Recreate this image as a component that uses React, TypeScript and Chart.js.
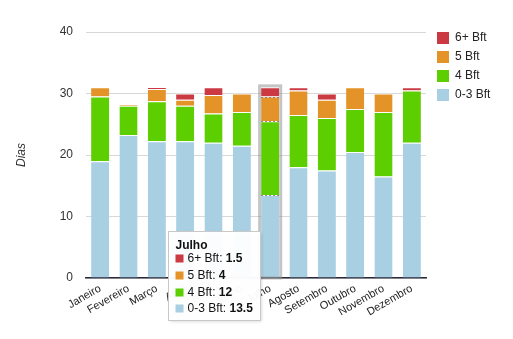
import React, { useEffect, useRef } from "react";
import { Chart, registerables } from "chart.js";

Chart.register(...registerables);

const categories = ["Janeiro", "Fevereiro", "Março", "Abril", "Maio", "Junho", "Julho", "Agosto", "Setembro", "Outubro", "Novembro", "Dezembro"];
const bft03 = [19, 23.25, 22.25, 22.25, 22, 21.5, 13.5, 18, 17.5, 20.5, 16.5, 22];
const bft4 = [10.5, 4.75, 6.5, 5.75, 4.75, 5.5, 12, 8.5, 8.5, 7, 10.5, 8.5];
const bft5 = [1.5, 0.25, 2, 1, 3, 3, 4, 4, 3, 3.5, 3, 0];
const bft6 = [0, 0, 0.25, 1, 1.25, 0, 1.5, 0.5, 1, 0, 0, 0.5];
const seriesLabels = ["0-3 Bft", "4 Bft", "5 Bft", "6+ Bft"];
const seriesColors = ["#A9CFE3", "#5DCF00", "#E39327", "#CB3A43"];
const yTicks = [0, 10, 20, 30, 40];
const highlightIndex = 6;

const FONT = "'Liberation Sans', Arial, sans-serif";

const overlayPlugin = {
  id: "overlay",
  afterDatasetsDraw(chart: any) {
    const ctx = chart.ctx;
    const area = chart.chartArea;
    const n = chart.data.datasets.length;
    const metas = [];
    for (let i = 0; i < n; i++) metas.push(chart.getDatasetMeta(i));
    const base = metas[0].data[highlightIndex];
    const topEl = metas[n - 1].data[highlightIndex];
    const w = base.width;
    const left = base.x - w / 2;
    const top = topEl.y;
    ctx.save();
    ctx.strokeStyle = "rgba(150,150,150,0.55)";
    ctx.lineWidth = 3;
    ctx.strokeRect(left - 1.5, top - 1.5, w + 3, area.bottom - top + 1.5);
    ctx.strokeStyle = "rgba(110,110,110,0.8)";
    ctx.lineWidth = 1;
    ctx.setLineDash([2, 2]);
    for (let i = 1; i < n; i++) {
      const el = metas[i].data[highlightIndex];
      const baseY = metas[i - 1].data[highlightIndex].y;
      if (Math.abs(el.y - baseY) < 0.5) continue;
      ctx.beginPath();
      ctx.moveTo(left, Math.round(baseY) + 0.5);
      ctx.lineTo(left + w, Math.round(baseY) + 0.5);
      ctx.stroke();
    }
    ctx.restore();
  },
  afterDraw(chart: any) {
    const ctx = chart.ctx;
    const area = chart.chartArea;
    const ds = chart.data.datasets;
    ctx.save();
    ctx.font = "12px " + FONT;
    ctx.textBaseline = "middle";
    ctx.textAlign = "left";
    for (let k = 0; k < ds.length; k++) {
      const i = ds.length - 1 - k;
      const cy = area.top + 6 + k * 19;
      ctx.fillStyle = ds[i].backgroundColor;
      ctx.fillRect(area.right + 11, cy - 6, 12, 12);
      ctx.fillStyle = "#222";
      ctx.fillText(ds[i].label, area.right + 29, cy);
    }
    const base = chart.getDatasetMeta(0).data[highlightIndex];
    const barLeft = base.x - base.width / 2;
    const bw = 92;
    const bh = 89;
    const bx = Math.round(barLeft - 1.5 - bw) + 0.5;
    const by = Math.round(area.bottom - 47) + 0.5;
    ctx.shadowColor = "rgba(0,0,0,0.18)";
    ctx.shadowBlur = 3;
    ctx.shadowOffsetX = 1;
    ctx.shadowOffsetY = 1;
    ctx.fillStyle = "rgba(255,255,255,0.97)";
    ctx.fillRect(bx, by, bw, bh);
    ctx.shadowColor = "transparent";
    ctx.strokeStyle = "#c8c8c8";
    ctx.lineWidth = 1;
    ctx.strokeRect(bx, by, bw, bh);
    ctx.fillStyle = "#111";
    ctx.font = "bold 12px " + FONT;
    ctx.fillText(chart.data.labels[highlightIndex], bx + 7, by + 14);
    const rowsY = [27, 44, 61, 77];
    for (let k = 0; k < ds.length; k++) {
      const i = ds.length - 1 - k;
      const cy = by + rowsY[k];
      ctx.fillStyle = ds[i].backgroundColor;
      ctx.fillRect(bx + 7, cy - 4, 8, 8);
      ctx.fillStyle = "#111";
      ctx.font = "12px " + FONT;
      const lbl = ds[i].label + ": ";
      ctx.fillText(lbl, bx + 19, cy);
      const lw = ctx.measureText(lbl).width;
      ctx.font = "bold 12px " + FONT;
      ctx.fillText(String(ds[i].data[highlightIndex]), bx + 19 + lw, cy);
    }
    ctx.restore();
  },
};

export default function App() {
  const ref = useRef<HTMLCanvasElement | null>(null);
  useEffect(() => {
    if (!ref.current) return;
    Chart.defaults.font.family = FONT;
    Chart.defaults.font.size = 12;
    Chart.defaults.color = "#333";
    const seriesData = [bft03, bft4, bft5, bft6];
    const chart = new Chart(ref.current, {
      type: "bar",
      data: {
        labels: categories,
        datasets: seriesData.map((d, i) => ({
          label: seriesLabels[i],
          data: d,
          backgroundColor: seriesColors[i],
          borderColor: "#ffffff",
          borderWidth: { top: 1, left: 0, right: 0, bottom: 0 },
          borderSkipped: false,
          categoryPercentage: 1,
          barPercentage: 0.64,
        })),
      },
      options: {
        animation: false,
        responsive: true,
        maintainAspectRatio: false,
        layout: { padding: { left: 10, top: 32, right: 87, bottom: 0 } },
        plugins: { legend: { display: false }, tooltip: { enabled: false } },
        scales: {
          x: {
            stacked: true,
            grid: { display: false, drawTicks: false },
            border: { display: true, color: "#2a2a3a", width: 1.5 },
            ticks: { autoSkip: false, minRotation: 30, maxRotation: 30, padding: 4, color: "#222", font: { size: 11 } },
            afterFit: (s: any) => { s.height = 61; },
          },
          y: {
            stacked: true,
            min: yTicks[0],
            max: yTicks[yTicks.length - 1],
            grid: { color: "#d8d8d8", drawTicks: false },
            border: { display: false },
            ticks: { stepSize: 10, padding: 13, color: "#333" },
            title: { display: true, text: "Dias", font: { style: "italic", size: 12 }, color: "#333", padding: { top: 4, bottom: 0 } },
            afterFit: (s: any) => { s.width = 76; },
          },
        },
      },
      plugins: [overlayPlugin],
    });
    return () => chart.destroy();
  }, []);
  return (
    <div style={{ position: "absolute", left: 0, top: 0, width: 513, height: 339, background: "#fff" }}>
      <canvas ref={ref} />
    </div>
  );
}
